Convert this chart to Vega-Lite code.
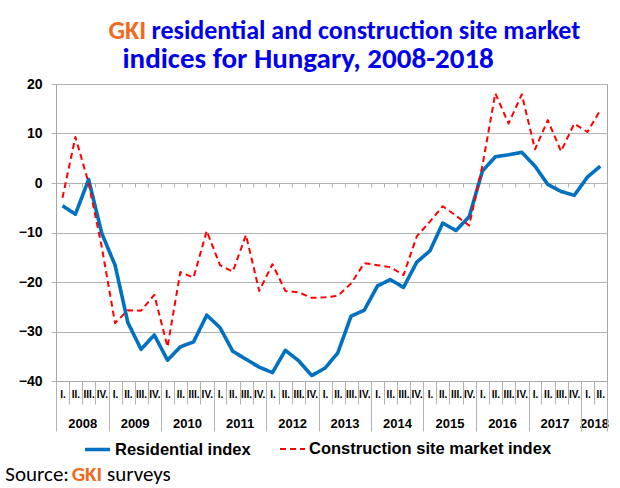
{
  "$schema": "https://vega.github.io/schema/vega-lite/v6.json",
  "padding": {"left": 5, "top": 17, "right": 8, "bottom": 2},
  "background": "white",
  "width": 551,
  "height": 297,
  "config": {
    "view": {"stroke": "#a6a6a6", "strokeWidth": 1},
    "axis": {"labelFont": "Liberation Sans", "labelFontWeight": "bold", "labelColor": "black", "titleFont": "Liberation Sans"}
  },
  "title": {
    "text": "Source:\u00a0\u00a0\u00a0\u00a0\u00a0\u00a0\u00a0 surveys",
    "subtitle": "\u200b\u00a0\u00a0\u00a0\u00a0\u00a0\u00a0\u00a0\u00a0\u00a0\u00a0\u00a0\u00a0\u00a0\u00a0GKI",
    "orient": "bottom",
    "anchor": "start",
    "frame": "bounds",
    "dx": -13,
    "offset": 6,
    "font": "Carlito, Lato, sans-serif",
    "fontSize": 21,
    "fontWeight": "normal",
    "color": "black",
    "subtitleFont": "Carlito, Lato, sans-serif",
    "subtitleFontSize": 21,
    "subtitleFontWeight": "bold",
    "subtitleColor": "#F26A1B",
    "subtitlePadding": -21
  },
  "data": {
    "values": [
      {"date": "2008-02-15", "Residential index": -4.6, "Construction site market index": -3.0},
      {"date": "2008-05-15", "Residential index": -6.3, "Construction site market index": 9.3},
      {"date": "2008-08-15", "Residential index": 0.7, "Construction site market index": 0.0},
      {"date": "2008-11-15", "Residential index": -10.2, "Construction site market index": -13.0},
      {"date": "2009-02-15", "Residential index": -16.6, "Construction site market index": -28.3},
      {"date": "2009-05-15", "Residential index": -28.2, "Construction site market index": -25.7},
      {"date": "2009-08-15", "Residential index": -33.6, "Construction site market index": -25.8},
      {"date": "2009-11-15", "Residential index": -30.7, "Construction site market index": -22.6},
      {"date": "2010-02-15", "Residential index": -35.8, "Construction site market index": -33.1},
      {"date": "2010-05-15", "Residential index": -33.1, "Construction site market index": -18.0},
      {"date": "2010-08-15", "Residential index": -32.1, "Construction site market index": -19.1},
      {"date": "2010-11-15", "Residential index": -26.7, "Construction site market index": -9.7},
      {"date": "2011-02-15", "Residential index": -29.2, "Construction site market index": -16.6},
      {"date": "2011-05-15", "Residential index": -34.0, "Construction site market index": -17.9},
      {"date": "2011-08-15", "Residential index": -35.6, "Construction site market index": -10.5},
      {"date": "2011-11-15", "Residential index": -37.2, "Construction site market index": -21.8},
      {"date": "2012-02-15", "Residential index": -38.3, "Construction site market index": -16.4},
      {"date": "2012-05-15", "Residential index": -33.8, "Construction site market index": -21.8},
      {"date": "2012-08-15", "Residential index": -35.9, "Construction site market index": -22.1},
      {"date": "2012-11-15", "Residential index": -38.9, "Construction site market index": -23.2},
      {"date": "2013-02-15", "Residential index": -37.4, "Construction site market index": -23.1},
      {"date": "2013-05-15", "Residential index": -34.3, "Construction site market index": -22.8},
      {"date": "2013-08-15", "Residential index": -26.9, "Construction site market index": -20.3},
      {"date": "2013-11-15", "Residential index": -25.7, "Construction site market index": -16.2},
      {"date": "2014-02-15", "Residential index": -20.8, "Construction site market index": -16.6},
      {"date": "2014-05-15", "Residential index": -19.5, "Construction site market index": -17.0},
      {"date": "2014-08-15", "Residential index": -21.1, "Construction site market index": -18.6},
      {"date": "2014-11-15", "Residential index": -16.0, "Construction site market index": -10.8},
      {"date": "2015-02-15", "Residential index": -13.7, "Construction site market index": -7.8},
      {"date": "2015-05-15", "Residential index": -8.1, "Construction site market index": -4.7},
      {"date": "2015-08-15", "Residential index": -9.6, "Construction site market index": -6.6},
      {"date": "2015-11-15", "Residential index": -6.8, "Construction site market index": -8.6},
      {"date": "2016-02-15", "Residential index": 2.4, "Construction site market index": 3.5},
      {"date": "2016-05-15", "Residential index": 5.3, "Construction site market index": 18.1},
      {"date": "2016-08-15", "Residential index": 5.7, "Construction site market index": 12.0},
      {"date": "2016-11-15", "Residential index": 6.2, "Construction site market index": 17.9},
      {"date": "2017-02-15", "Residential index": 3.4, "Construction site market index": 6.8},
      {"date": "2017-05-15", "Residential index": -0.3, "Construction site market index": 12.7},
      {"date": "2017-08-15", "Residential index": -1.7, "Construction site market index": 6.4},
      {"date": "2017-11-15", "Residential index": -2.5, "Construction site market index": 12.0},
      {"date": "2018-02-15", "Residential index": 1.2, "Construction site market index": 10.3},
      {"date": "2018-05-15", "Residential index": 3.4, "Construction site market index": 14.7}
    ]
  },
  "transform": [{"fold": ["Residential index", "Construction site market index"], "as": ["series", "value"]}],
  "resolve": {"axis": {"x": "independent"}},
  "layer": [
    {
      "mark": {"type": "line", "strokeJoin": "round"},
      "encoding": {
        "x": {
          "field": "date", "type": "temporal",
          "scale": {"type": "utc", "domain": [{"year": 2008, "month": 1, "date": 1, "utc": true}, {"year": 2018, "month": 7, "date": 1, "utc": true}]},
          "axis": {
            "orient": "bottom", "title": null, "ticks": false, "domain": false, "grid": false,
            "labelFontSize": 10, "labelPadding": 8, "labelAngle": 0, "labelOverlap": false, "labelFlush": false, "labelBound": false,
            "labelExpr": "utcmonth(datum.value) < 3 ? 'I.' : utcmonth(datum.value) < 6 ? 'II.' : utcmonth(datum.value) < 9 ? 'III.' : 'IV.'",
            "values": [
              {"year": 2008, "month": 2, "date": 15, "utc": true}, {"year": 2008, "month": 5, "date": 15, "utc": true}, {"year": 2008, "month": 8, "date": 15, "utc": true}, {"year": 2008, "month": 11, "date": 15, "utc": true},
              {"year": 2009, "month": 2, "date": 15, "utc": true}, {"year": 2009, "month": 5, "date": 15, "utc": true}, {"year": 2009, "month": 8, "date": 15, "utc": true}, {"year": 2009, "month": 11, "date": 15, "utc": true},
              {"year": 2010, "month": 2, "date": 15, "utc": true}, {"year": 2010, "month": 5, "date": 15, "utc": true}, {"year": 2010, "month": 8, "date": 15, "utc": true}, {"year": 2010, "month": 11, "date": 15, "utc": true},
              {"year": 2011, "month": 2, "date": 15, "utc": true}, {"year": 2011, "month": 5, "date": 15, "utc": true}, {"year": 2011, "month": 8, "date": 15, "utc": true}, {"year": 2011, "month": 11, "date": 15, "utc": true},
              {"year": 2012, "month": 2, "date": 15, "utc": true}, {"year": 2012, "month": 5, "date": 15, "utc": true}, {"year": 2012, "month": 8, "date": 15, "utc": true}, {"year": 2012, "month": 11, "date": 15, "utc": true},
              {"year": 2013, "month": 2, "date": 15, "utc": true}, {"year": 2013, "month": 5, "date": 15, "utc": true}, {"year": 2013, "month": 8, "date": 15, "utc": true}, {"year": 2013, "month": 11, "date": 15, "utc": true},
              {"year": 2014, "month": 2, "date": 15, "utc": true}, {"year": 2014, "month": 5, "date": 15, "utc": true}, {"year": 2014, "month": 8, "date": 15, "utc": true}, {"year": 2014, "month": 11, "date": 15, "utc": true},
              {"year": 2015, "month": 2, "date": 15, "utc": true}, {"year": 2015, "month": 5, "date": 15, "utc": true}, {"year": 2015, "month": 8, "date": 15, "utc": true}, {"year": 2015, "month": 11, "date": 15, "utc": true},
              {"year": 2016, "month": 2, "date": 15, "utc": true}, {"year": 2016, "month": 5, "date": 15, "utc": true}, {"year": 2016, "month": 8, "date": 15, "utc": true}, {"year": 2016, "month": 11, "date": 15, "utc": true},
              {"year": 2017, "month": 2, "date": 15, "utc": true}, {"year": 2017, "month": 5, "date": 15, "utc": true}, {"year": 2017, "month": 8, "date": 15, "utc": true}, {"year": 2017, "month": 11, "date": 15, "utc": true},
              {"year": 2018, "month": 2, "date": 15, "utc": true}, {"year": 2018, "month": 5, "date": 15, "utc": true}
            ]
          }
        },
        "y": {
          "field": "value", "type": "quantitative",
          "scale": {"domain": [-40, 20], "nice": false, "zero": false},
          "axis": {
            "title": null, "values": [-40, -30, -20, -10, 0, 10, 20], "grid": true, "gridColor": "#b3b3b3",
            "tickColor": "#b3b3b3", "tickSize": 5, "domainColor": "#a6a6a6", "labelFontSize": 14, "labelPadding": 9
          }
        },
        "color": {
          "field": "series", "type": "nominal",
          "scale": {"domain": ["Residential index", "Construction site market index"], "range": ["#0070C0", "#FF0000"]},
          "legend": {
            "orient": "none", "legendX": 27, "legendY": 351, "direction": "horizontal", "title": null, "symbolType": "stroke", "symbolSize": 625,
            "labelFont": "Liberation Sans", "labelFontWeight": "bold", "labelFontSize": 16.5, "labelColor": "black",
            "columnPadding": 25, "labelLimit": 400, "labelOffset": 3
          }
        },
        "strokeDash": {
          "field": "series", "type": "nominal",
          "scale": {"domain": ["Residential index", "Construction site market index"], "range": [[1, 0], [6, 4]]}
        },
        "strokeWidth": {
          "field": "series", "type": "nominal",
          "scale": {"domain": ["Residential index", "Construction site market index"], "range": [3.6, 2]}
        }
      }
    },
    {
      "mark": {"type": "point", "opacity": 0},
      "encoding": {
        "x": {
          "field": "date", "type": "temporal",
          "axis": {
            "orient": "bottom", "title": null, "labels": false, "grid": false, "domain": true, "domainColor": "#a6a6a6",
            "ticks": true, "tickSize": 23, "tickColor": "#b3b3b3",
            "values": [
              {"year": 2008, "quarter": 1, "utc": true}, {"year": 2008, "quarter": 2, "utc": true}, {"year": 2008, "quarter": 3, "utc": true}, {"year": 2008, "quarter": 4, "utc": true},
              {"year": 2009, "quarter": 1, "utc": true}, {"year": 2009, "quarter": 2, "utc": true}, {"year": 2009, "quarter": 3, "utc": true}, {"year": 2009, "quarter": 4, "utc": true},
              {"year": 2010, "quarter": 1, "utc": true}, {"year": 2010, "quarter": 2, "utc": true}, {"year": 2010, "quarter": 3, "utc": true}, {"year": 2010, "quarter": 4, "utc": true},
              {"year": 2011, "quarter": 1, "utc": true}, {"year": 2011, "quarter": 2, "utc": true}, {"year": 2011, "quarter": 3, "utc": true}, {"year": 2011, "quarter": 4, "utc": true},
              {"year": 2012, "quarter": 1, "utc": true}, {"year": 2012, "quarter": 2, "utc": true}, {"year": 2012, "quarter": 3, "utc": true}, {"year": 2012, "quarter": 4, "utc": true},
              {"year": 2013, "quarter": 1, "utc": true}, {"year": 2013, "quarter": 2, "utc": true}, {"year": 2013, "quarter": 3, "utc": true}, {"year": 2013, "quarter": 4, "utc": true},
              {"year": 2014, "quarter": 1, "utc": true}, {"year": 2014, "quarter": 2, "utc": true}, {"year": 2014, "quarter": 3, "utc": true}, {"year": 2014, "quarter": 4, "utc": true},
              {"year": 2015, "quarter": 1, "utc": true}, {"year": 2015, "quarter": 2, "utc": true}, {"year": 2015, "quarter": 3, "utc": true}, {"year": 2015, "quarter": 4, "utc": true},
              {"year": 2016, "quarter": 1, "utc": true}, {"year": 2016, "quarter": 2, "utc": true}, {"year": 2016, "quarter": 3, "utc": true}, {"year": 2016, "quarter": 4, "utc": true},
              {"year": 2017, "quarter": 1, "utc": true}, {"year": 2017, "quarter": 2, "utc": true}, {"year": 2017, "quarter": 3, "utc": true}, {"year": 2017, "quarter": 4, "utc": true},
              {"year": 2018, "quarter": 1, "utc": true}, {"year": 2018, "quarter": 2, "utc": true}, {"year": 2018, "quarter": 3, "utc": true}
            ]
          }
        }
      }
    },
    {
      "mark": {"type": "point", "opacity": 0},
      "encoding": {
        "x": {
          "field": "date", "type": "temporal",
          "axis": {
            "orient": "bottom", "title": null, "labels": false, "grid": false, "domain": false, "offset": -198,
            "ticks": true, "tickSize": 4, "tickColor": "#b3b3b3",
            "values": [
              {"year": 2008, "quarter": 1, "utc": true}, {"year": 2008, "quarter": 2, "utc": true}, {"year": 2008, "quarter": 3, "utc": true}, {"year": 2008, "quarter": 4, "utc": true},
              {"year": 2009, "quarter": 1, "utc": true}, {"year": 2009, "quarter": 2, "utc": true}, {"year": 2009, "quarter": 3, "utc": true}, {"year": 2009, "quarter": 4, "utc": true},
              {"year": 2010, "quarter": 1, "utc": true}, {"year": 2010, "quarter": 2, "utc": true}, {"year": 2010, "quarter": 3, "utc": true}, {"year": 2010, "quarter": 4, "utc": true},
              {"year": 2011, "quarter": 1, "utc": true}, {"year": 2011, "quarter": 2, "utc": true}, {"year": 2011, "quarter": 3, "utc": true}, {"year": 2011, "quarter": 4, "utc": true},
              {"year": 2012, "quarter": 1, "utc": true}, {"year": 2012, "quarter": 2, "utc": true}, {"year": 2012, "quarter": 3, "utc": true}, {"year": 2012, "quarter": 4, "utc": true},
              {"year": 2013, "quarter": 1, "utc": true}, {"year": 2013, "quarter": 2, "utc": true}, {"year": 2013, "quarter": 3, "utc": true}, {"year": 2013, "quarter": 4, "utc": true},
              {"year": 2014, "quarter": 1, "utc": true}, {"year": 2014, "quarter": 2, "utc": true}, {"year": 2014, "quarter": 3, "utc": true}, {"year": 2014, "quarter": 4, "utc": true},
              {"year": 2015, "quarter": 1, "utc": true}, {"year": 2015, "quarter": 2, "utc": true}, {"year": 2015, "quarter": 3, "utc": true}, {"year": 2015, "quarter": 4, "utc": true},
              {"year": 2016, "quarter": 1, "utc": true}, {"year": 2016, "quarter": 2, "utc": true}, {"year": 2016, "quarter": 3, "utc": true}, {"year": 2016, "quarter": 4, "utc": true},
              {"year": 2017, "quarter": 1, "utc": true}, {"year": 2017, "quarter": 2, "utc": true}, {"year": 2017, "quarter": 3, "utc": true}, {"year": 2017, "quarter": 4, "utc": true},
              {"year": 2018, "quarter": 1, "utc": true}, {"year": 2018, "quarter": 2, "utc": true}, {"year": 2018, "quarter": 3, "utc": true}
            ]
          }
        }
      }
    },
    {
      "mark": {"type": "point", "opacity": 0},
      "encoding": {
        "x": {
          "field": "date", "type": "temporal",
          "axis": {
            "orient": "bottom", "title": null, "ticks": false, "domain": false, "grid": false,
            "labelFontSize": 13, "labelPadding": 36, "labelAngle": 0, "labelOverlap": false, "labelFlush": false, "labelBound": false,
            "labelExpr": "utcFormat(datum.value, '%Y')",
            "values": [
              {"year": 2008, "month": 7, "date": 1, "utc": true}, {"year": 2009, "month": 7, "date": 1, "utc": true}, {"year": 2010, "month": 7, "date": 1, "utc": true},
              {"year": 2011, "month": 7, "date": 1, "utc": true}, {"year": 2012, "month": 7, "date": 1, "utc": true}, {"year": 2013, "month": 7, "date": 1, "utc": true},
              {"year": 2014, "month": 7, "date": 1, "utc": true}, {"year": 2015, "month": 7, "date": 1, "utc": true}, {"year": 2016, "month": 7, "date": 1, "utc": true},
              {"year": 2017, "month": 7, "date": 1, "utc": true}, {"year": 2018, "month": 4, "date": 1, "utc": true}
            ]
          }
        }
      }
    },
    {
      "mark": {"type": "point", "opacity": 0},
      "encoding": {
        "x": {
          "field": "date", "type": "temporal",
          "axis": {
            "orient": "bottom", "title": null, "labels": false, "grid": false, "domain": false,
            "ticks": true, "tickSize": 50, "tickColor": "#b3b3b3",
            "values": [
              {"year": 2008, "month": 1, "date": 1, "utc": true}, {"year": 2009, "month": 1, "date": 1, "utc": true}, {"year": 2010, "month": 1, "date": 1, "utc": true},
              {"year": 2011, "month": 1, "date": 1, "utc": true}, {"year": 2012, "month": 1, "date": 1, "utc": true}, {"year": 2013, "month": 1, "date": 1, "utc": true},
              {"year": 2014, "month": 1, "date": 1, "utc": true}, {"year": 2015, "month": 1, "date": 1, "utc": true}, {"year": 2016, "month": 1, "date": 1, "utc": true},
              {"year": 2017, "month": 1, "date": 1, "utc": true}, {"year": 2018, "month": 1, "date": 1, "utc": true}, {"year": 2018, "month": 7, "date": 1, "utc": true}
            ]
          }
        }
      }
    },
    {
      "mark": {"type": "point", "opacity": 0},
      "encoding": {
        "x": {
          "field": "date", "type": "temporal",
          "axis": {
            "orient": "top", "labels": false, "ticks": false, "domain": false, "grid": false,
            "title": "GKI", "titleColor": "#F26A1B", "titleFont": "Carlito, Lato, sans-serif", "titleFontSize": 26, "titleFontWeight": "bold",
            "titleAnchor": "start", "titleAlign": "left", "titleBaseline": "alphabetic", "titleX": 52, "titleY": -46
          }
        }
      }
    },
    {
      "mark": {"type": "point", "opacity": 0},
      "encoding": {
        "x": {
          "field": "date", "type": "temporal",
          "axis": {
            "orient": "top", "labels": false, "ticks": false, "domain": false, "grid": false,
            "title": "residential and construction site market", "titleColor": "#0000EE", "titleFont": "Carlito, Lato, sans-serif", "titleFontSize": 26, "titleFontWeight": "bold",
            "titleAnchor": "start", "titleAlign": "left", "titleBaseline": "alphabetic", "titleX": 95, "titleY": -46
          }
        }
      }
    },
    {
      "mark": {"type": "point", "opacity": 0},
      "encoding": {
        "x": {
          "field": "date", "type": "temporal",
          "axis": {
            "orient": "top", "labels": false, "ticks": false, "domain": false, "grid": false,
            "title": "indices for Hungary, 2008-2018", "titleColor": "#0000EE", "titleFont": "Carlito, Lato, sans-serif", "titleFontSize": 29, "titleFontWeight": "bold",
            "titleAnchor": "start", "titleAlign": "left", "titleBaseline": "alphabetic", "titleX": 66, "titleY": -17
          }
        }
      }
    }
  ]
}
